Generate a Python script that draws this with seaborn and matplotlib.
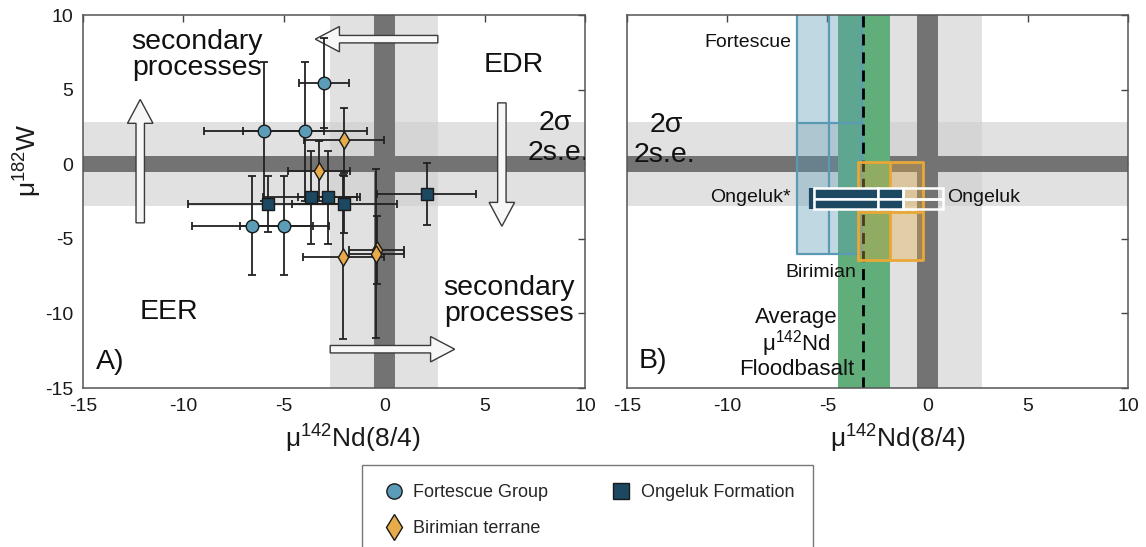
import numpy as np
import pandas as pd
import matplotlib
matplotlib.use("Agg")
import matplotlib.pyplot as plt
import seaborn as sns
from matplotlib.lines import Line2D
from matplotlib.patches import FancyArrow

# ---- mu142Nd(8/4) and mu182W with 2SD uncertainties ----
fortescue_nd = [-2.99, -5.99, -3.95, -6.56, -4.97]
fortescue_w = [5.45, 2.20, 2.20, -4.11, -4.11]
fortescue_nd_err = [1.25, 2.97, 3.08, 3.02, 2.23]
fortescue_w_err = [3.0, 4.65, 4.65, 3.3, 3.3]

ongeluk_nd = [-5.79, -3.64, -2.81, -1.99, 2.12]
ongeluk_w = [-2.68, -2.22, -2.22, -2.68, -1.99]
ongeluk_nd_err = [3.99, 2.41, 1.47, 2.61, 2.47]
ongeluk_w_err = [1.88, 3.1, 3.1, 1.9, 2.1]

birimian_nd = [-1.99, -3.25, -2.03, -0.38, -0.40]
birimian_w = [1.60, -0.45, -6.20, -5.76, -6.00]
birimian_nd_err = [2.0, 1.54, 2.0, 1.37, 1.37]
birimian_w_err = [2.2, 2.0, 5.5, 2.3, 5.65]

group_names = ["Fortescue Group", "Ongeluk Formation", "Birimian terrane"]

# reproducibility of the terrestrial standard
nd_2sigma, w_2sigma, two_se = 2.7, 2.8, 0.53

# panel B: ranges of the suites
fortescue_box_nd = [-6.53, -4.91, -3.29]
fortescue_box_w = [-6.0, 2.77, 10.5]
birimian_box_nd = [-3.49, -1.88, -0.22]
birimian_box_w = [-6.43, -3.2, 0.15]
floodbasalt_nd = [-4.46, -3.21, -1.88]       # low, mean, high
ongeluk_rows_w = [-1.95, -2.67]
ongeluk_row_height = 0.72
ongeluk_seg_nd = [-5.65, -2.47, -1.22, 0.77]
ongeluk_star_nd = -5.83

ticks = [-15, -10, -5, 0, 5, 10]

# ---- style ----
sns.set_theme(style="white")
plt.rcParams["font.family"] = ["Liberation Sans", "DejaVu Sans"]
plt.rcParams["mathtext.fontset"] = "custom"
plt.rcParams["mathtext.rm"] = "Liberation Sans"
plt.rcParams["mathtext.it"] = "Liberation Sans:italic"
plt.rcParams["mathtext.default"] = "regular"
plt.rcParams["axes.unicode_minus"] = False

col = {"Fortescue Group": "#5b9db8", "Ongeluk Formation": "#1d4862",
       "Birimian terrane": "#e8ab4a"}
mk = {"Fortescue Group": "o", "Ongeluk Formation": "s", "Birimian terrane": "d"}
msize = {"Fortescue Group": 82, "Ongeluk Formation": 82, "Birimian terrane": 78}
edge = "#1a1a1a"
light_gray = (205 / 255, 205 / 255, 205 / 255)
dark_gray = "#737373"
big = 20.5

fig = plt.figure(figsize=(11.46, 5.47), dpi=100)
W, H = 1146, 547
axA = fig.add_axes([83 / W, 1 - 388 / H, 502 / W, 373 / H])
axB = fig.add_axes([627 / W, 1 - 388 / H, 501 / W, 373 / H])

xlab = r"μ$^{142}$Nd(8/4)"


def frame(ax, show_y):
    ax.set_xlim(-15, 10)
    ax.set_ylim(-15, 10)
    ax.set_xticks(ticks)
    ax.set_yticks(ticks)
    ax.tick_params(direction="in", length=5, width=1, color="#444444",
                   top=True, right=True, labelsize=14, pad=7,
                   labelcolor="#1a1a1a")
    if not show_y:
        ax.set_yticklabels([])
    for s in ax.spines.values():
        s.set_color("#555555")
        s.set_linewidth(1.1)
    # 2 sigma and 2 s.e. envelopes
    ax.axvspan(-nd_2sigma, nd_2sigma, color=light_gray, alpha=0.59, lw=0, zorder=0.5)
    ax.axhspan(-w_2sigma, w_2sigma, color=light_gray, alpha=0.59, lw=0, zorder=0.5)
    ax.axvspan(-two_se, two_se, color=dark_gray, lw=0, zorder=0.6)
    ax.axhspan(-two_se, two_se, color=dark_gray, lw=0, zorder=0.6)


frame(axA, True)
frame(axB, False)

# ---- panel A: arrows for secondary processes ----
arrow_kw = dict(length_includes_head=True, facecolor="#f7f7f7",
                edgecolor="#3a3a3a", lw=1.0, zorder=1)
axA.add_patch(FancyArrow(2.67, 8.38, -6.1, 0, width=0.5, head_width=1.7,
                         head_length=1.2, **arrow_kw))
axA.add_patch(FancyArrow(-2.69, -12.4, 6.2, 0, width=0.5, head_width=1.7,
                         head_length=1.2, **arrow_kw))
axA.add_patch(FancyArrow(-12.15, -3.93, 0, 8.27, width=0.42, head_width=1.27,
                         head_length=1.6, **arrow_kw))
axA.add_patch(FancyArrow(5.86, 4.11, 0, -8.27, width=0.42, head_width=1.27,
                         head_length=1.6, **arrow_kw))

# ---- panel A: data ----
frames = []
for name, x, y, xe, ye in [
    ("Fortescue Group", fortescue_nd, fortescue_w, fortescue_nd_err, fortescue_w_err),
    ("Ongeluk Formation", ongeluk_nd, ongeluk_w, ongeluk_nd_err, ongeluk_w_err),
    ("Birimian terrane", birimian_nd, birimian_w, birimian_nd_err, birimian_w_err),
]:
    frames.append(pd.DataFrame({"nd": x, "w": y, "nd_err": xe, "w_err": ye,
                                "group": name}))
data = pd.concat(frames, ignore_index=True)

axA.errorbar(data["nd"], data["w"], xerr=data["nd_err"], yerr=data["w_err"],
             fmt="none", ecolor="#222222", elinewidth=1.3, capsize=3,
             capthick=1.3, zorder=3)
for name in group_names:
    sub = data[data["group"] == name]
    sns.scatterplot(data=sub, x="nd", y="w", marker=mk[name], color=col[name],
                    s=msize[name], edgecolor=edge, linewidth=1.0, ax=axA,
                    zorder=5, legend=False)

for ax, xc in [(axA, 0.537), (axB, 0.54)]:
    ax.set_xlabel(xlab, fontsize=19, color="#1a1a1a")
    ax.xaxis.set_label_coords(xc, -0.093)
axA.set_ylabel(r"μ$^{182}$W", fontsize=19, color="#1a1a1a")
axA.yaxis.set_label_coords(-0.077, 0.61)

txt = dict(color="#111111", zorder=6)
axA.text(-9.33, 7.3, "secondary\nprocesses", fontsize=big, ha="center",
         va="center", linespacing=1.0, **txt)
axA.text(6.2, -9.15, "secondary\nprocesses", fontsize=big, ha="center",
         va="center", linespacing=1.0, **txt)
axA.text(6.44, 6.63, "EDR", fontsize=big, ha="center", va="center", **txt)
axA.text(-10.74, -9.9, "EER", fontsize=big, ha="center", va="center", **txt)
axA.text(8.52, 2.73, "2σ", fontsize=big, ha="center", va="center", **txt)
axA.text(8.7, 0.72, "2s.e.", fontsize=big, ha="center", va="center",
         clip_on=True, **txt)
axA.text(-13.65, -13.25, "A)", fontsize=big, ha="center", va="center", **txt)

# ---- panel B: ranges ----
axB.axvspan(floodbasalt_nd[0], floodbasalt_nd[2], color="#62ae7a", lw=0, zorder=1)
axB.axvline(floodbasalt_nd[1], color="black", lw=2, ls=(0, (4, 2.5)), zorder=2.5)

fc = "#5b9ab5"
axB.fill_between(fortescue_box_nd[::2], fortescue_box_w[0], fortescue_box_w[2],
                 color=fc, alpha=0.38, lw=0, zorder=2)
axB.plot([fortescue_box_nd[0], fortescue_box_nd[0], fortescue_box_nd[2],
          fortescue_box_nd[2]],
         [fortescue_box_w[2], fortescue_box_w[0], fortescue_box_w[0],
          fortescue_box_w[2]], color=fc, lw=1.6, zorder=2.2)
axB.plot([fortescue_box_nd[1]] * 2, [fortescue_box_w[0], fortescue_box_w[2]],
         color=fc, lw=1.6, zorder=2.2)
axB.plot([fortescue_box_nd[0], fortescue_box_nd[2]], [fortescue_box_w[1]] * 2,
         color=fc, lw=1.6, zorder=2.2)

bc = "#e8a838"
axB.fill_between(birimian_box_nd[::2], birimian_box_w[0], birimian_box_w[2],
                 color=bc, alpha=0.35, lw=0, zorder=3)
axB.plot([birimian_box_nd[0], birimian_box_nd[2], birimian_box_nd[2],
          birimian_box_nd[0], birimian_box_nd[0]],
         [birimian_box_w[0], birimian_box_w[0], birimian_box_w[2],
          birimian_box_w[2], birimian_box_w[0]], color=bc, lw=2, zorder=3.1)
axB.plot([birimian_box_nd[1]] * 2, [birimian_box_w[0], birimian_box_w[2]],
         color=bc, lw=2, zorder=3.1)
axB.plot([birimian_box_nd[0], birimian_box_nd[2]], [birimian_box_w[1]] * 2,
         color=bc, lw=2, zorder=3.1)

# Ongeluk ranges as stacked segments
seg = np.array(ongeluk_seg_nd)
for yrow in ongeluk_rows_w:
    axB.barh([yrow, yrow], seg[1:3] - seg[0:2], left=seg[0:2],
             height=ongeluk_row_height, color=col["Ongeluk Formation"],
             edgecolor="white", lw=1.8, zorder=4)
    axB.barh([yrow], [seg[3] - seg[2]], left=[seg[2]],
             height=ongeluk_row_height, facecolor="none", edgecolor="white",
             lw=1.8, zorder=4)
axB.vlines(ongeluk_star_nd, min(ongeluk_rows_w) - ongeluk_row_height / 2,
           max(ongeluk_rows_w) + ongeluk_row_height / 2,
           color=col["Ongeluk Formation"], lw=3, zorder=4.1)

axB.text(-6.79, 8.15, "Fortescue", fontsize=14, ha="right", va="center", **txt)
axB.text(-6.83, -2.2, "Ongeluk*", fontsize=14, ha="right", va="center", **txt)
axB.text(0.96, -2.2, "Ongeluk", fontsize=14, ha="left", va="center", **txt)
axB.text(-5.35, -7.25, "Birimian", fontsize=14, ha="center", va="center", **txt)
axB.text(-6.53, -12.0, "Average\n" + r"μ$^{142}$Nd" + "\nFloodbasalt",
         fontsize=16, ha="center", va="center", linespacing=1.0, **txt)
axB.text(-13.06, 2.65, "2σ", fontsize=big, ha="center", va="center", **txt)
axB.text(-13.14, 0.6, "2s.e.", fontsize=big, ha="center", va="center", **txt)
axB.text(-13.73, -13.2, "B)", fontsize=big, ha="center", va="center", **txt)

# ---- legend ----
handles = [
    Line2D([], [], ls="none", marker="o", ms=11, mfc=col["Fortescue Group"],
           mec=edge, mew=1, label="Fortescue Group"),
    Line2D([], [], ls="none", marker="d", ms=13, mfc=col["Birimian terrane"],
           mec=edge, mew=1, label="Birimian terrane"),
    Line2D([], [], ls="none", marker="s", ms=11, mfc=col["Ongeluk Formation"],
           mec=edge, mew=1, label="Ongeluk Formation"),
]
leg = fig.legend(handles=handles, ncol=2, loc="upper left",
                 bbox_to_anchor=(362 / W, 1 - 465 / H), fontsize=13,
                 frameon=True, fancybox=False, borderpad=1.05,
                 handletextpad=0.4, columnspacing=3.3, labelspacing=1.05,
                 handlelength=1.4, borderaxespad=0)
leg.get_frame().set_edgecolor("#555555")
leg.get_frame().set_linewidth(1.0)

fig.savefig("out.png", dpi=100)
